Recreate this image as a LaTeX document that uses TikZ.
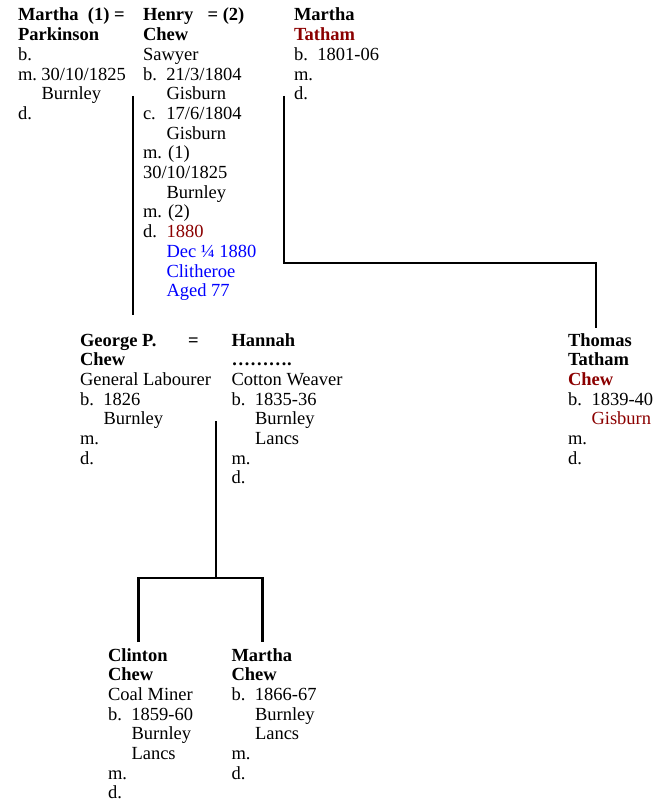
\documentclass[tikz,border=0pt]{standalone}
\usepackage{fontspec}
\setmainfont{Liberation Serif}
\usepackage{xcolor}
\definecolor{dred}{RGB}{139,0,0}
\definecolor{lblue}{RGB}{0,0,255}
\newcommand\pblock[1]{\vtop{\baselineskip=19.7pt\lineskiplimit=-60pt\lineskip=0pt #1}}
\newcommand\pline[1]{\hbox{#1}}
\newcommand\pdat[2]{\hbox{\hbox to 23.5pt{#1\hfil}#2}}
\newcommand\pind[1]{\hbox{\hskip23.5pt #1}}
\begin{document}
\begin{tikzpicture}[x=1pt,y=-1pt,
  person/.style={anchor=base west, inner sep=0pt, outer sep=0pt, font=\fontsize{18.5pt}{19.7pt}\selectfont},
  link/.style={line width=2.6pt, line join=miter, draw=black}]
\useasboundingbox (0,0) rectangle (657,805);

% generation 1
\node[person] (mp) at (18,21) {\pblock{%
  \pline{\textbf{Martha\ \ (1) =}}
  \pline{\textbf{Parkinson}}
  \pline{b.}
  \pdat{m.}{30/10/1825}
  \pind{Burnley}
  \pline{d.}}};
\node[person] (hc) at (143,21) {\pblock{%
  \pline{\textbf{Henry}\hspace{14.3pt}\textbf{= (2)}}
  \pline{\textbf{Chew}}
  \pline{Sawyer}
  \pdat{b.}{21/3/1804}
  \pind{Gisburn}
  \pdat{c.}{17/6/1804}
  \pind{Gisburn}
  \pline{m. (1)}
  \pline{30/10/1825}
  \pind{Burnley}
  \pline{m. (2)}
  \pdat{d.}{\textcolor{dred}{1880}}
  \pind{\textcolor{lblue}{Dec ¼ 1880}}
  \pind{\textcolor{lblue}{Clitheroe}}
  \pind{\textcolor{lblue}{Aged 77}}}};
\node[person] (mt) at (294,21) {\pblock{%
  \pline{\textbf{Martha}}
  \pline{\textbf{\textcolor{dred}{Tatham}}}
  \pdat{b.}{1801-06}
  \pline{m.}
  \pline{d.}}};

% generation 2
\node[person] (gc) at (80,346) {\pblock{%
  \pline{\makebox[108pt][l]{\textbf{George P.}}\textbf{=}}
  \pline{\textbf{Chew}}
  \pline{General Labourer}
  \pdat{b.}{1826}
  \pind{Burnley}
  \pline{m.}
  \pline{d.}}};
\node[person] (hn) at (231.5,346) {\pblock{%
  \pline{\textbf{Hannah}}
  \pline{\textbf{……….}}
  \pline{Cotton Weaver}
  \pdat{b.}{1835-36}
  \pind{Burnley}
  \pind{Lancs}
  \pline{m.}
  \pline{d.}}};
\node[person] (tc) at (568,346) {\pblock{%
  \pline{\textbf{Thomas}}
  \pline{\textbf{Tatham}}
  \pline{\textbf{\textcolor{dred}{Chew}}}
  \pdat{b.}{1839-40}
  \pind{\textcolor{dred}{Gisburn}}
  \pline{m.}
  \pline{d.}}};

% generation 3
\node[person] (cc) at (108,661) {\pblock{%
  \pline{\textbf{Clinton}}
  \pline{\textbf{Chew}}
  \pline{Coal Miner}
  \pdat{b.}{1859-60}
  \pind{Burnley}
  \pind{Lancs}
  \pline{m.}
  \pline{d.}}};
\node[person] (mc) at (231.5,661) {\pblock{%
  \pline{\textbf{Martha}}
  \pline{\textbf{Chew}}
  \pdat{b.}{1866-67}
  \pind{Burnley}
  \pind{Lancs}
  \pline{m.}
  \pline{d.}}};

% connectors
\coordinate (m1top) at (133,96);
\coordinate (gctop) at (133,315);
\draw[link] (m1top) -- (gctop);

\coordinate (m2top) at (284,96);
\coordinate (m2corner) at (284,263);
\coordinate (tctop) at (596,328);
\draw[link] (m2top) -- (m2corner) -| (tctop);

\coordinate (ghtop) at (216,421);
\coordinate (ghbar) at (216,578);
\coordinate (cctop) at (138.5,642);
\coordinate (mctop) at (262.5,642);
\draw[link] (ghtop) -- (ghbar);
\draw[link] (cctop) |- (ghbar) -| (mctop);
\end{tikzpicture}
\end{document}
